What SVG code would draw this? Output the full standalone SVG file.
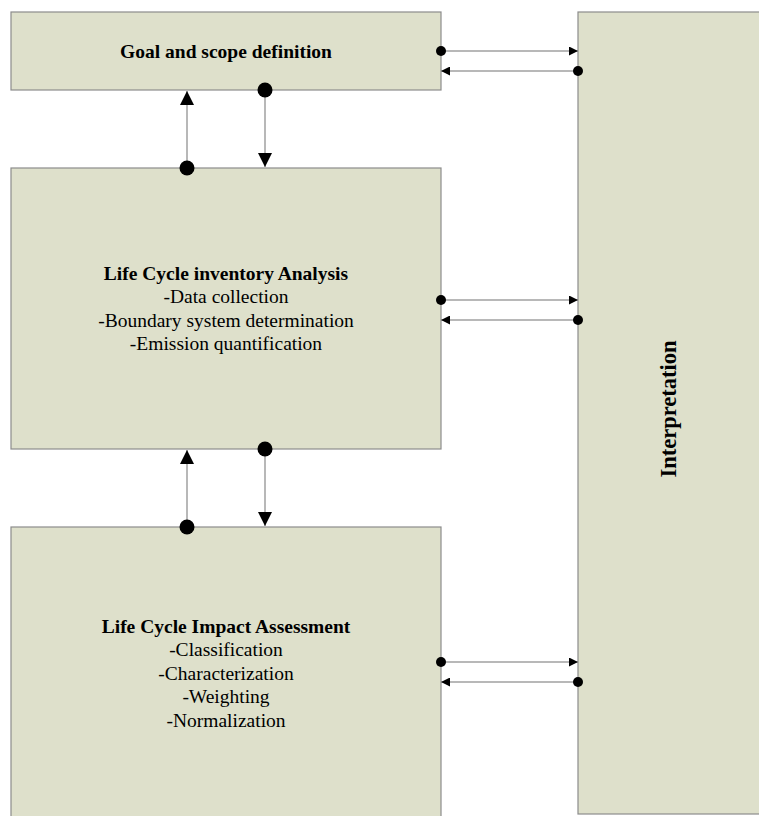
<svg xmlns="http://www.w3.org/2000/svg" width="759" height="816" viewBox="0 0 759 816">
<style>
.box{fill:#dee0cb;stroke:#8c8c8c;stroke-width:1.2}
.t{font-family:"Liberation Serif","Times New Roman",serif;font-size:19.5px;fill:#000;text-anchor:middle}
.b{font-weight:bold}
.ln{stroke:#a0a0a0;stroke-width:1.5;fill:none}
</style>
<defs>
<marker id="ab" viewBox="0 0 10 10" refX="10" refY="5" markerWidth="14" markerHeight="14" markerUnits="userSpaceOnUse" orient="auto"><path d="M0,0 L10,5 L0,10 Z" fill="#000"/></marker>
<marker id="as" viewBox="0 0 10 10" refX="10" refY="5" markerWidth="9" markerHeight="9" markerUnits="userSpaceOnUse" orient="auto"><path d="M0,0 L10,5 L0,10 Z" fill="#000"/></marker>
</defs>
<rect x="0" y="0" width="759" height="816" fill="#fff"/>
<g id="goal">
<rect class="box" x="11" y="12" width="430" height="78"/>
<text class="t b" x="226" y="58">Goal and scope definition</text>
</g>
<g id="lci">
<rect class="box" x="11" y="168" width="430" height="281"/>
<text class="t b" x="226" y="280">Life Cycle inventory Analysis</text>
<text class="t" x="226" y="303">-Data collection</text>
<text class="t" x="226" y="327">-Boundary system determination</text>
<text class="t" x="226" y="350">-Emission quantification</text>
</g>
<g id="lcia">
<rect class="box" x="11" y="527" width="430" height="295"/>
<text class="t b" x="226" y="633">Life Cycle Impact Assessment</text>
<text class="t" x="226" y="656">-Classification</text>
<text class="t" x="226" y="680">-Characterization</text>
<text class="t" x="226" y="703">-Weighting</text>
<text class="t" x="226" y="727">-Normalization</text>
</g>
<g id="interpretation">
<rect class="box" x="578" y="12" width="190" height="802"/>
<text class="t b" style="font-size:22.5px" transform="translate(676,409) rotate(-90)">Interpretation</text>
</g>
<g id="connectors">
<line class="ln" x1="187" y1="168" x2="187" y2="91" marker-end="url(#ab)"/>
<circle cx="187" cy="168" r="7.5"/>
<line class="ln" x1="265" y1="90" x2="265" y2="167" marker-end="url(#ab)"/>
<circle cx="265" cy="90" r="7.5"/>
<line class="ln" x1="187" y1="527" x2="187" y2="450" marker-end="url(#ab)"/>
<circle cx="187" cy="527" r="7.5"/>
<line class="ln" x1="265" y1="449" x2="265" y2="526" marker-end="url(#ab)"/>
<circle cx="265" cy="449" r="7.5"/>
<line class="ln" x1="441" y1="51" x2="578" y2="51" marker-end="url(#as)"/>
<circle cx="441" cy="51" r="5"/>
<line class="ln" x1="578" y1="71" x2="441" y2="71" marker-end="url(#as)"/>
<circle cx="578" cy="71" r="5"/>
<line class="ln" x1="441" y1="300" x2="578" y2="300" marker-end="url(#as)"/>
<circle cx="441" cy="300" r="5"/>
<line class="ln" x1="578" y1="320" x2="441" y2="320" marker-end="url(#as)"/>
<circle cx="578" cy="320" r="5"/>
<line class="ln" x1="441" y1="662" x2="578" y2="662" marker-end="url(#as)"/>
<circle cx="441" cy="662" r="5"/>
<line class="ln" x1="578" y1="682" x2="441" y2="682" marker-end="url(#as)"/>
<circle cx="578" cy="682" r="5"/>
</g>
</svg>
